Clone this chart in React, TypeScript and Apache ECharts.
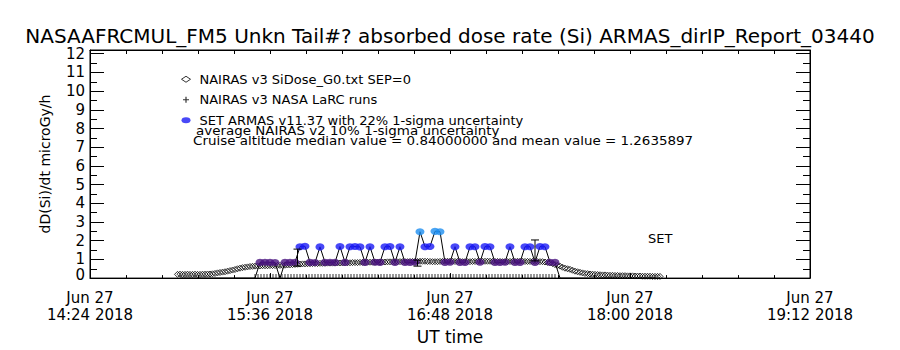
import React, { useEffect, useRef } from "react";
import * as echarts from "echarts";

// ---------- data ----------
const TITLE =
  "NASAAFRCMUL_FM5 Unkn Tail#? absorbed dose rate (Si) ARMAS_dirIP_Report_03440";
const Y_NAME = "dD(Si)/dt microGy/h";
const X_NAME = "UT time";
const AXIS_START = Date.UTC(2018, 5, 27, 14, 24); // 14:24 UT
const AXIS_SPAN_MIN = 288; // to 19:12 UT
const X_STEP_MIN = 72;
const MONTHS = ["Jan", "Feb", "Mar", "Apr", "May", "Jun", "Jul", "Aug", "Sep", "Oct", "Nov", "Dec"];

const NAME_NAIRAS = "NAIRAS v3 SiDose_G0.txt SEP=0";
const NAME_LARC = "NAIRAS v3 NASA LaRC runs";
const NAME_ARMAS = "SET ARMAS v11.37 with 22% 1-sigma uncertainty";
const NOTE_1 = "average NAIRAS v2 10% 1-sigma uncertainty";
const NOTE_2 = "Cruise altitude median value = 0.84000000 and mean value = 1.2635897";
const SET_LABEL = "SET";

// NAIRAS model, one value per minute starting 35 min after 14:24
const NAIRAS_START_MIN = 35;
const NAIRAS_VAL = [
  0.2, 0.21, 0.2, 0.2, 0.21, 0.2, 0.2, 0.21, 0.2, 0.2, 0.21, 0.21, 0.22, 0.22, 0.23, 0.25,
  0.28, 0.3, 0.32, 0.34, 0.37, 0.4, 0.43, 0.46, 0.5, 0.53, 0.56, 0.58, 0.6, 0.62, 0.63,
  0.64, 0.65, 0.65, 0.66, 0.66, 0.66, 0.67, 0.67, 0.67, 0.68, 0.68, 0.68, 0.69, 0.7, 0.71, 0.72, 0.73, 0.74, 0.75,
  0.76, 0.76, 0.77, 0.77, 0.78, 0.78, 0.78, 0.79, 0.79, 0.79, 0.8, 0.8, 0.8, 0.8, 0.81, 0.81,
  0.81, 0.82, 0.82, 0.82, 0.83, 0.83, 0.83, 0.84, 0.84, 0.84, 0.85, 0.85, 0.85, 0.85, 0.86, 0.86, 0.86, 0.86, 0.87, 0.87, 0.87, 0.87, 0.87, 0.88, 0.88,
  0.88, 0.88, 0.89, 0.89, 0.89, 0.89, 0.9, 0.9, 0.9, 0.89,
  0.89, 0.88, 0.88, 0.88, 0.89, 0.89, 0.9, 0.9, 0.9, 0.9,
  0.89, 0.89, 0.89, 0.88, 0.88, 0.88, 0.88, 0.89, 0.89, 0.89,
  0.9, 0.9, 0.9, 0.9, 0.9, 0.89, 0.89, 0.89, 0.89, 0.88,
  0.88, 0.88, 0.89, 0.89, 0.89, 0.9, 0.9, 0.9, 0.89, 0.89,
  0.89, 0.89, 0.89, 0.88, 0.88,
  0.88, 0.86, 0.84, 0.82, 0.78, 0.72, 0.68, 0.64, 0.58, 0.53, 0.5, 0.47, 0.42, 0.37, 0.34, 0.31,
  0.28, 0.25, 0.24, 0.22, 0.21, 0.2, 0.19, 0.18, 0.17, 0.17, 0.16, 0.15, 0.15, 0.14, 0.14, 0.13,
  0.13, 0.13, 0.12, 0.12, 0.12, 0.11, 0.11, 0.11, 0.1, 0.1, 0.1, 0.1, 0.09, 0.09, 0.09, 0.09,
];

// ARMAS measurements, one every 2 minutes starting 36 min after 14:24
const ARMAS_START_MIN = 36;
const ARMAS_STEP_MIN = 2;
const ARMAS_VAL = [
  0, 0, 0, 0, 0, 0, 0, 0, 0, 0, 0, 0, 0, 0, 0,
  0,
  0.84, 0.85, 0.84, 0.83,
  0,
  0.84, 0.84, 0.85,
  1.68, 1.7,
  0.84, 0.83,
  1.67,
  0.84, 0.85, 0.84,
  1.69,
  0.84,
  1.68, 1.69, 1.67,
  0.84,
  1.68,
  0.85, 0.84,
  1.68, 1.69,
  0.84,
  1.68,
  0.84, 0.83, 0.85,
  2.48,
  1.68, 1.69,
  2.5, 2.48,
  0.84, 0.85,
  1.68,
  0.84, 0.83,
  1.68, 1.68,
  0.85,
  1.69, 1.68,
  0.84, 0.83, 0.85,
  1.68,
  0.84, 0.84,
  1.68, 1.68,
  0.84,
  1.69, 1.68,
  0.85, 0.84,
  0,
  0, 0, 0, 0, 0, 0, 0, 0, 0, 0, 0, 0, 0, 0, 0, 0, 0, 0, 0,
];

// NASA LaRC run markers (plotted at zero along the cruise)
const LARC_START_MIN = 66;
const LARC_STEP_MIN = 1.2;
const LARC_VAL = new Array(101).fill(0);

// uncertainty bars: minute after 14:24, low, high
const ERR_MIN = [83, 131, 178];
const ERR_LOW = [0.64, 0.64, 0.92];
const ERR_HIGH = [1.55, 0.96, 2.04];

const FONT = "DejaVu Sans";
const PURPLE = "#4a1480";
const BLUE = "#1a1af5";
const LIGHT_BLUE = "#1e8ff0";

const tAt = (min: number) => AXIS_START + min * 60000;
const pad2 = (n: number) => (n < 10 ? "0" + n : String(n));

export default function App() {
  const ref = useRef<HTMLDivElement>(null);
  useEffect(() => {
    if (!ref.current) return;
    const chart = echarts.init(ref.current, undefined, { renderer: "svg" });

    const nairas = NAIRAS_VAL.map((v, i) => [tAt(NAIRAS_START_MIN + i), v]);
    const armas = ARMAS_VAL.map((v, i) => [tAt(ARMAS_START_MIN + i * ARMAS_STEP_MIN), v]);
    const armasPts = armas.filter((p) => p[1] > 0);
    const larc = LARC_VAL.map((v, i) => [tAt(LARC_START_MIN + i * LARC_STEP_MIN), v]);
    const errs = ERR_MIN.map((m, i) => [tAt(m), ERR_LOW[i], ERR_HIGH[i]]);

    const xMin = AXIS_START;
    const xMax = tAt(AXIS_SPAN_MIN);
    const xInt = X_STEP_MIN * 60000;

    const baseX = {
      type: "value",
      min: xMin,
      max: xMax,
      interval: xInt,
      splitLine: { show: false },
      axisLine: { show: true, onZero: false, lineStyle: { color: "#000", width: 1 } },
    };
    const baseY = {
      type: "value",
      min: 0,
      max: 12.2,
      interval: 1,
      splitLine: { show: false },
      axisLine: { show: true, onZero: false, lineStyle: { color: "#000", width: 1 } },
      axisTick: { show: true, inside: true, length: 14, lineStyle: { color: "#000" } },
      minorTick: { show: true, splitNumber: 2, length: 7, lineStyle: { color: "#000" } },
    };

    const option: any = {
      animation: false,
      backgroundColor: "#fff",
      textStyle: { fontFamily: FONT },
      title: {
        text: TITLE,
        left: "center",
        top: 26,
        padding: 0,
        textStyle: { fontFamily: FONT, fontSize: 20, lineHeight: 20, fontWeight: "normal", color: "#000" },
      },
      grid: { left: 90, right: 90, top: 50, bottom: 71, show: true, borderColor: "#000", borderWidth: 1, backgroundColor: "transparent" },
      legend: {
        orient: "vertical",
        left: 176,
        top: 67,
        itemWidth: 9,
        itemHeight: 6,
        itemGap: 6,
        textStyle: { fontFamily: FONT, fontSize: 13, color: "#000", lineHeight: 14.5, padding: [0, 0, 0, 4] },
        data: [
          { name: NAME_NAIRAS, icon: "diamond", itemStyle: { color: "#fff", borderColor: "#000", borderWidth: 1 } },
          { name: NAME_LARC, icon: "path://M4,0h2v4h4v2h-4v4h-2v-4h-4v-2h4z", itemStyle: { color: "#000" } },
          { name: NAME_ARMAS, icon: "path://M0,3a4.5,3 0 1,0 9,0a4.5,3 0 1,0 -9,0z", itemStyle: { color: BLUE } },
        ],
      },
      xAxis: [
        {
          ...baseX,
          position: "bottom",
          name: X_NAME,
          nameLocation: "middle",
          nameGap: 44,
          nameTextStyle: { fontFamily: FONT, fontSize: 17, color: "#000" },
          axisTick: { show: true, inside: true, length: 5, lineStyle: { color: "#000" } },
          minorTick: { show: true, splitNumber: 5, length: 3, lineStyle: { color: "#000" } },
          axisLabel: {
            show: true,
            showMinLabel: true,
            showMaxLabel: true,
            margin: 11,
            fontFamily: FONT,
            fontSize: 15,
            lineHeight: 17,
            color: "#000",
            formatter: (v: number) => {
              const d = new Date(v);
              return `${MONTHS[d.getUTCMonth()]} ${d.getUTCDate()}\n${pad2(d.getUTCHours())}:${pad2(
                d.getUTCMinutes()
              )} ${d.getUTCFullYear()}`;
            },
          },
        },
        {
          ...baseX,
          position: "top",
          axisLabel: { show: false },
          axisTick: { show: true, inside: true, length: 4, lineStyle: { color: "#000" } },
          minorTick: { show: true, splitNumber: 5, length: 4, lineStyle: { color: "#000" } },
        },
      ],
      yAxis: [
        {
          ...baseY,
          position: "left",
          name: Y_NAME,
          nameLocation: "middle",
          nameGap: 38,
          nameTextStyle: { fontFamily: FONT, fontSize: 14, color: "#000" },
          axisLabel: {
            show: true,
            showMinLabel: true,
            showMaxLabel: true,
            margin: 5,
            fontFamily: FONT,
            fontSize: 15,
            color: "#000",
            formatter: (v: number) => {
              if (Math.abs(v - Math.round(v)) > 1e-6) return "";
              if (v === 0) return "{lo|0}";
              return String(v);
            },
            rich: {
              lo: { fontFamily: FONT, fontSize: 15, color: "#000", padding: [0, 0, 7, 0] },
            },
          },
        },
        { ...baseY, position: "right", axisLabel: { show: false } },
      ],
      graphic: [
        {
          type: "text",
          left: 196,
          top: 125,
          scaleX: 1.12,
          style: { text: NOTE_1, fontFamily: FONT, fontSize: 12, fill: "#000" },
        },
        {
          type: "text",
          left: 193,
          top: 135,
          scaleX: 1.12,
          style: { text: NOTE_2, fontFamily: FONT, fontSize: 12, fill: "#000" },
        },
        {
          type: "text",
          left: 648,
          top: 232,
          style: { text: SET_LABEL, fontFamily: FONT, fontSize: 13, fill: "#000" },
        },
      ],
      series: [
        {
          name: NAME_LARC,
          type: "scatter",
          data: larc,
          symbol: "rect",
          symbolSize: [1, 4],
          symbolOffset: [0, -2],
          itemStyle: { color: "#000" },
          z: 2,
        },
        {
          name: NAME_NAIRAS,
          type: "scatter",
          data: nairas,
          symbol: "diamond",
          symbolSize: 6,
          itemStyle: { color: "rgba(255,255,255,0)", borderColor: "#000", borderWidth: 1 },
          z: 3,
        },
        {
          name: "armasLine",
          type: "line",
          data: armas,
          showSymbol: false,
          symbol: "none",
          lineStyle: { color: "#000", width: 1 },
          z: 4,
        },
        {
          name: NAME_ARMAS,
          type: "scatter",
          data: armasPts,
          symbol: "circle",
          symbolSize: [9, 7],
          itemStyle: {
            color: (p: any) => {
              const v = p.value[1];
              return v >= 2.2 ? LIGHT_BLUE : v >= 1.3 ? BLUE : PURPLE;
            },
          },
          z: 5,
        },
        {
          name: "errors",
          type: "custom",
          data: errs,
          z: 6,
          renderItem: (params: any, api: any) => {
            const x = api.value(0);
            const lo = api.coord([x, api.value(1)]);
            const hi = api.coord([x, api.value(2)]);
            const w = 4;
            const st = { stroke: "#000", lineWidth: 1 };
            return {
              type: "group",
              children: [
                { type: "line", shape: { x1: lo[0], y1: lo[1], x2: hi[0], y2: hi[1] }, style: st },
                { type: "line", shape: { x1: hi[0] - w, y1: hi[1], x2: hi[0] + w, y2: hi[1] }, style: st },
                { type: "line", shape: { x1: lo[0] - w, y1: lo[1], x2: lo[0] + w, y2: lo[1] }, style: st },
              ],
            };
          },
        },
      ],
    };
    chart.setOption(option);
    return () => chart.dispose();
  }, []);
  return (
    <div
      ref={ref}
      style={{ position: "absolute", left: 0, top: 0, width: 900, height: 350, background: "#fff" }}
    />
  );
}
